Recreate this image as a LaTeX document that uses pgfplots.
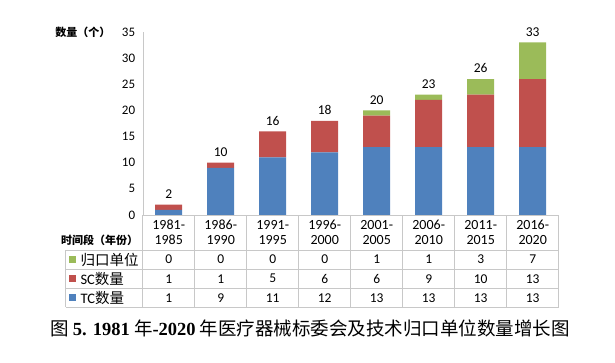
\documentclass[border=0pt]{standalone}
\usepackage{fontspec}
\setmainfont{Carlito}
\newfontfamily\cjk{Noto Sans CJK SC}
\newfontfamily\lserif{Liberation Serif}
\usepackage{pgfplots}
\pgfplotsset{compat=1.18}
\definecolor{cBlue}{HTML}{4F81BD}
\definecolor{cRed}{HTML}{C0504D}
\definecolor{cGreen}{HTML}{9BBB59}
\definecolor{cGrid}{HTML}{C8C8C8}
\newcommand{\tnum}{\fontsize{13.5}{15}\selectfont}
\begin{document}
\begin{tikzpicture}[x=1pt,y=1pt]
\useasboundingbox (0,0) rectangle (615,362);
\begin{axis}[at={(142.7pt,147pt)}, anchor=south west, scale only axis,
  width=416pt, height=183pt,
  ybar stacked, bar width=27pt,
  xmin=-0.5, xmax=7.5, ymin=0, ymax=35, ytick={0,5,...,35}, xtick=\empty,
  axis x line=none, axis y line*=left,
  y axis line style={cGrid, -}, ytick style={draw=none},
  yticklabel style={font=\fontsize{13}{14}\selectfont, text=black, xshift=-4pt},
  /pgf/number format/assume math mode=true,
  clip=false]
\addplot[fill=cBlue, draw=none] coordinates {(0,1)(1,9)(2,11)(3,12)(4,13)(5,13)(6,13)(7,13)};
\addplot[fill=cRed, draw=none] coordinates {(0,1)(1,1)(2,5)(3,6)(4,6)(5,9)(6,10)(7,13)};
\addplot[fill=cGreen, draw=none] coordinates {(0,0)(1,0)(2,0)(3,0)(4,1)(5,1)(6,3)(7,7)};
\end{axis}
\begin{axis}[at={(142.7pt,147pt)}, anchor=south west, scale only axis,
  width=416pt, height=183pt,
  xmin=-0.5, xmax=7.5, ymin=0, ymax=35, hide axis, clip=false,
  /pgf/number format/assume math mode=true]
\addplot[draw=none, mark=none, point meta=explicit, nodes near coords,
  nodes near coords style={font=\fontsize{13.5}{15}\selectfont, text=black, anchor=south, yshift=2.5pt}]
  coordinates {(0,2)[2] (1,10)[10] (2,16)[16] (3,18)[18] (4,20)[20] (5,23)[23] (6,26)[26] (7,33)[33]};
\end{axis}
% y label
\node[anchor=east, font=\fontsize{11}{13}\selectfont\cjk\bfseries] at (114,330) {数量（个）};
% table lines
\draw[cGrid, line width=0.8pt] (142.7,147) -- (558.7,147);
\foreach \yy in {112,93,73.7,54.7} \draw[cGrid, line width=0.8pt] (65.7,\yy) -- (558.7,\yy);
\foreach \i in {0,...,8} \draw[cGrid, line width=0.8pt] ({142.7+52*\i},147) -- ({142.7+52*\i},54.7);
\draw[cGrid, line width=0.8pt] (65.7,112) -- (65.7,54.7);
% header
\node[font=\fontsize{11}{13}\selectfont\cjk\bfseries] at (99.5,122) {时间段（年份）};
\foreach \a/\b [count=\i from 0] in {1981/1985,1986/1990,1991/1995,1996/2000,2001/2005,2006/2010,2011/2015,2016/2020}
  \node[align=center, font=\fontsize{14}{15}\selectfont] at ({168.7+52*\i},129.5) {\a-\\\b};
% legend column
\fill[cGreen] (68.5,99) rectangle (75.5,106);
\fill[cRed] (68.5,79.8) rectangle (75.5,86.8);
\fill[cBlue] (68.5,60.7) rectangle (75.5,67.7);
\node[anchor=west, font=\fontsize{14.5}{16}\selectfont\cjk] at (77,102.5) {归口单位};
\node[anchor=west, font=\fontsize{14.5}{16}\selectfont] at (77,83.3) {SC{\cjk 数量}};
\node[anchor=west, font=\fontsize{14.5}{16}\selectfont] at (77,64.2) {TC{\cjk 数量}};
% values
\foreach \v [count=\i from 0] in {0,0,0,0,1,1,3,7} \node[font=\tnum] at ({168.7+52*\i},102.5) {\v};
\foreach \v [count=\i from 0] in {1,1,5,6,6,9,10,13} \node[font=\tnum] at ({168.7+52*\i},83.3) {\v};
\foreach \v [count=\i from 0] in {1,9,11,12,13,13,13,13} \node[font=\tnum] at ({168.7+52*\i},64.2) {\v};
% caption
\node at (310,34) {\fontsize{18.5}{20}\selectfont\cjk 图 {\lserif\bfseries 5. 1981} 年{\lserif\bfseries -2020} 年医疗器械标委会及技术归口单位数量增长图};
\end{tikzpicture}
\end{document}
